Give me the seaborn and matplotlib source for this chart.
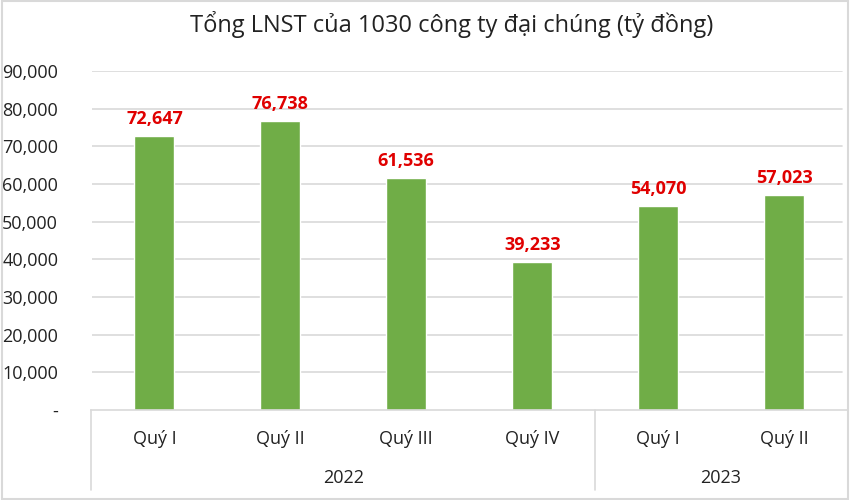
import matplotlib
matplotlib.use("Agg")
import matplotlib.pyplot as plt
import seaborn as sns
import pandas as pd
from matplotlib.patches import Rectangle
from matplotlib.lines import Line2D

title = "Tổng LNST của 1030 công ty đại chúng (tỷ đồng)"
quarters = ["Quý I", "Quý II", "Quý III", "Quý IV", "Quý I", "Quý II"]
years = ["2022", "2022", "2022", "2022", "2023", "2023"]
values = [72647, 76738, 61536, 39233, 54070, 57023]
yticks = [0, 10000, 20000, 30000, 40000, 50000, 60000, 70000, 80000, 90000]

sns.set_theme(style="white")
plt.rcParams['font.family'] = ['Open Sans', 'DejaVu Sans']

df = pd.DataFrame({"key": [f"{y}-{q}" for y, q in zip(years, quarters)],
                   "value": values})

fig = plt.figure(figsize=(8.5, 5.0), dpi=100)
ax = fig.add_axes([91.5/850, 1-410/500, (847-91.5)/850, (410-71)/500])

sns.barplot(data=df, x="key", y="value", color="#70AD47", width=0.318,
            saturation=1, ax=ax)

ax.set_ylim(0, 90000)
ax.set_xlim(-0.5, len(values) - 0.5)
ax.set_yticks(yticks)
ax.set_yticklabels(["-" if v == 0 else f"{v:,}" for v in yticks], fontsize=13, color="#222222")
ax.tick_params(axis='y', length=0, pad=24)
ax.set_xticks([])
ax.set_xlabel("")
ax.set_ylabel("")
for v in yticks[1:]:
    ax.axhline(v, xmax=0.993, color="#D9D9D9", lw=1.2, zorder=0)
for s in ["top", "right", "left"]:
    ax.spines[s].set_visible(False)
ax.spines["bottom"].set_color("#D9D9D9")
ax.spines["bottom"].set_linewidth(1.2)

for i, v in enumerate(values):
    ax.text(i, v + 2200, f"{v:,}", ha="center", va="bottom", color="#E00000",
            fontsize=13, fontweight="bold")

# category labels
for i, q in enumerate(quarters):
    ax.text(i, -0.085, q, transform=ax.get_xaxis_transform(), ha="center",
            va="center", fontsize=13, color="#222222")

# year groups
groups = []
for i, y in enumerate(years):
    if not groups or groups[-1][0] != y:
        groups.append([y, i, i])
    else:
        groups[-1][2] = i
bounds = [-0.5] + [g[2] + 0.5 for g in groups[:-1]]
for b in bounds:
    ax.add_line(Line2D([b, b], [0, -0.235], transform=ax.get_xaxis_transform(),
                       color="#D9D9D9", lw=1.2, clip_on=False))
for y, s, e in groups:
    ax.text((s + e) / 2, -0.2, y, transform=ax.get_xaxis_transform(), ha="center",
            va="center", fontsize=13, color="#222222")

fig.text(452/850, 1 - 25/500, title, ha="center", va="center", fontsize=17, color="#222222")

fig.patches.append(Rectangle((0.002, 0.002), 0.996, 0.996, transform=fig.transFigure,
                             fill=False, edgecolor="#D9D9D9", lw=1.5))

fig.savefig("out.png", dpi=100)
